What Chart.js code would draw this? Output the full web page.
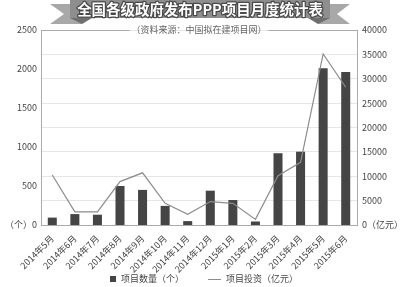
<!DOCTYPE html>
<html>
<head>
<meta charset="utf-8">
<script src="https://cdn.jsdelivr.net/npm/chart.js@4.4.1/dist/chart.umd.min.js"></script>
<style>
  html, body { margin: 0; padding: 0; background: #fff; }
  #wrap { width: 400px; height: 287px; position: relative; }
</style>
</head>
<body>
<div id="wrap"><canvas id="pppChart"></canvas></div>
<script>
const months = [
  "2014年5月", "2014年6月", "2014年7月", "2014年8月", "2014年9月", "2014年10月", "2014年11月",
  "2014年12月", "2015年1月", "2015年2月", "2015年3月", "2015年4月", "2015年5月", "2015年6月"
];
const projectCount = [95, 140, 132, 500, 450, 245, 50, 440, 320, 45, 920, 940, 2010, 1960];
const projectInvest = [10250, 2700, 2700, 8900, 10700, 4450, 2200, 4800, 4450, 1150, 10100, 12850, 35100, 28250];

const titleText = "全国各级政府发布PPP项目月度统计表";
const sourceText = "（资料来源：中国拟在建项目网）";
const countLabel = "项目数量（个）";
const investLabel = "项目投资（亿元）";

const FONT = "'Noto Sans CJK SC', 'Noto Sans', sans-serif";
const tickFont = { family: FONT, size: 9 };

const decorations = {
  id: "decorations",
  beforeDraw(chart) {
    const { ctx } = chart;
    ctx.save();
    // ribbon tails
    ctx.fillStyle = "#a8a8a8";
    ctx.beginPath();
    ctx.moveTo(50, 4); ctx.lineTo(82, 4); ctx.lineTo(82, 24); ctx.lineTo(50, 24); ctx.lineTo(64, 14);
    ctx.closePath(); ctx.fill();
    ctx.beginPath();
    ctx.moveTo(350, 4); ctx.lineTo(318, 4); ctx.lineTo(318, 24); ctx.lineTo(350, 24); ctx.lineTo(337, 14);
    ctx.closePath(); ctx.fill();
    // folds
    ctx.fillStyle = "#6f6f6f";
    ctx.beginPath();
    ctx.moveTo(70, 18); ctx.lineTo(92, 18); ctx.lineTo(82, 24);
    ctx.closePath(); ctx.fill();
    ctx.beginPath();
    ctx.moveTo(330, 18); ctx.lineTo(308, 18); ctx.lineTo(318, 24);
    ctx.closePath(); ctx.fill();
    // main band
    ctx.fillStyle = "#8e8e8e";
    ctx.fillRect(70, 0, 260, 18);
    // title
    let size = 16;
    ctx.font = `bold ${size}px ${FONT}`;
    size = size * 246 / ctx.measureText(titleText).width;
    ctx.font = `bold ${size}px ${FONT}`;
    ctx.textAlign = "center";
    ctx.textBaseline = "middle";
    ctx.lineJoin = "round";
    ctx.strokeStyle = "#4a4a4a";
    ctx.lineWidth = 2.5;
    ctx.strokeText(titleText, 200, 10);
    ctx.fillStyle = "#fff";
    ctx.fillText(titleText, 200, 10);
    ctx.restore();
  },
  afterDraw(chart) {
    const { ctx, chartArea } = chart;
    ctx.save();
    // top frame line with the source note
    ctx.font = `9px ${FONT}`;
    const w = ctx.measureText(sourceText).width;
    const cx = (chartArea.left + chartArea.right) / 2;
    ctx.strokeStyle = "#aaa";
    ctx.lineWidth = 1;
    ctx.beginPath();
    ctx.moveTo(chartArea.left, chartArea.top + 0.5);
    ctx.lineTo(cx - w / 2 - 2, chartArea.top + 0.5);
    ctx.moveTo(cx + w / 2 + 2, chartArea.top + 0.5);
    ctx.lineTo(chartArea.right, chartArea.top + 0.5);
    ctx.stroke();
    ctx.fillStyle = "#666";
    ctx.textAlign = "center";
    ctx.textBaseline = "middle";
    ctx.fillText(sourceText, cx, chartArea.top);

    // legend
    const bar = chart.data.datasets.find(d => d.type === "bar");
    const line = chart.data.datasets.find(d => d.type === "line");
    const w1 = ctx.measureText(bar.label).width;
    const w2 = ctx.measureText(line.label).width;
    const total = 6 + 5 + w1 + 24 + 13 + 5 + w2;
    let x = 204 - total / 2;
    const y = 279;
    ctx.textAlign = "left";
    ctx.fillStyle = bar.backgroundColor;
    ctx.fillRect(x, y - 3, 6, 6);
    x += 11;
    ctx.fillStyle = "#444";
    ctx.fillText(bar.label, x, y);
    x += w1 + 24;
    ctx.strokeStyle = line.borderColor;
    ctx.beginPath();
    ctx.moveTo(x, y + 0.5);
    ctx.lineTo(x + 13, y + 0.5);
    ctx.stroke();
    x += 18;
    ctx.fillText(line.label, x, y);
    ctx.restore();
  }
};

new Chart(document.getElementById("pppChart"), {
  data: {
    labels: months,
    datasets: [
      {
        type: "line",
        label: investLabel,
        data: projectInvest,
        yAxisID: "yInvest",
        borderColor: "#8c8c8c",
        borderWidth: 1.2,
        pointRadius: 0,
        tension: 0,
        order: 0
      },
      {
        type: "bar",
        label: countLabel,
        data: projectCount,
        yAxisID: "yCount",
        backgroundColor: "#454545",
        barPercentage: 1,
        categoryPercentage: 0.4,
        order: 1
      }
    ]
  },
  options: {
    responsive: true,
    maintainAspectRatio: false,
    animation: false,
    layout: { padding: { top: 30, left: 0, right: 0, bottom: 0 } },
    scales: {
      x: {
        grid: { display: false },
        border: { color: "#aaa" },
        ticks: { color: "#444", font: tickFont, maxRotation: 45, minRotation: 45, autoSkip: false, padding: 0 },
        afterFit: axis => { axis.height = 62; }
      },
      yCount: {
        position: "left",
        min: 0,
        max: 2500,
        grid: { display: false, drawTicks: false },
        border: { color: "#aaa" },
        ticks: {
          stepSize: 500,
          color: "#444",
          font: tickFont,
          padding: 4,
          callback: v => v === 0 ? "（个）0" : v
        },
        afterFit: axis => { axis.width = 41; }
      },
      yInvest: {
        position: "right",
        min: 0,
        max: 40000,
        grid: { color: "#e6e6e6", drawTicks: false },
        border: { color: "#aaa" },
        ticks: {
          stepSize: 5000,
          color: "#444",
          font: tickFont,
          padding: 5,
          callback: v => v === 0 ? "0（亿元）" : v
        },
        afterFit: axis => { axis.width = 43; }
      }
    },
    plugins: {
      tooltip: { enabled: false },
      legend: { display: false }
    }
  },
  plugins: [decorations]
});
</script>
</body>
</html>
